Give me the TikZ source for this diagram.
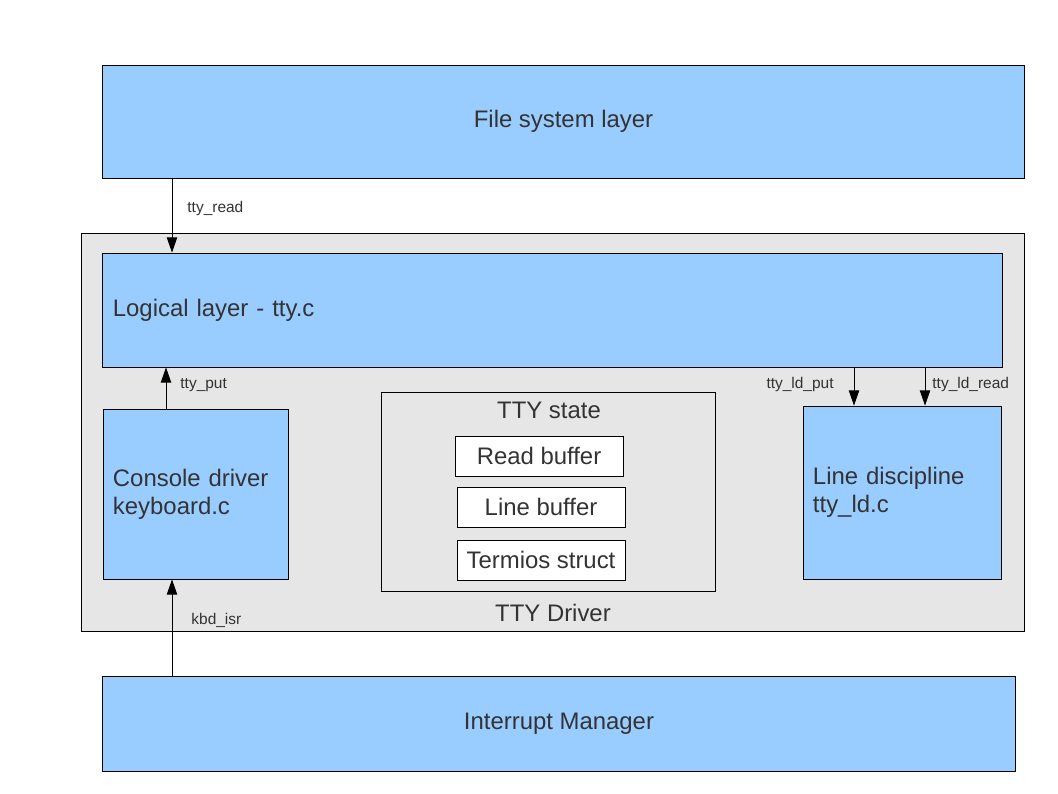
\documentclass[tikz,border=0pt]{standalone}
\usepackage{fontspec}
\setmainfont{Liberation Sans}
\usepackage{tikz}
\usetikzlibrary{arrows.meta,positioning}
\definecolor{layerblue}{HTML}{99CCFF}
\definecolor{drivergray}{HTML}{E6E6E6}
\definecolor{textgray}{HTML}{333333}
\tikzset{
  boxnode/.style = {rectangle, draw=black, line width=0.6pt, text=textgray, inner sep=0pt, font=\fontsize{17}{20}\selectfont},
  layer/.style = {boxnode, fill=layerblue},
  leftlayer/.style = {layer, align=left, inner xsep=0.25cm},
  driver/.style = {boxnode, fill=drivergray},
  bufbox/.style = {boxnode, fill=white, minimum width=4.2cm, minimum height=1cm},
  lbl/.style = {text=textgray, inner sep=0pt, font=\fontsize{11}{13}\selectfont},
  arr/.style = {-{Triangle[length=3.8mm,width=2.6mm]}, line width=0.6pt},
}

\begin{document}
\begin{tikzpicture}[x=0.025cm, y=-0.025cm]
\useasboundingbox (0,0) rectangle (1058,794);

% layers
\node [layer, minimum width=23.025cm, minimum height=2.825cm] (fs) at (563.5,121.5) {File system layer};
\node [driver, minimum width=23.55cm, minimum height=9.95cm] (drv) at (553,432) {};
\node [leftlayer, minimum width=22.475cm, minimum height=2.85cm, text width=21.975cm] (logic) at (552.5,310) {Logical layer - tty.c};
\node [leftlayer, minimum width=4.625cm, minimum height=4.25cm, text width=4.125cm] (cons) at (195.5,494) {Console driver\\keyboard.c};
\node [leftlayer, minimum width=4.95cm, minimum height=4.325cm, text width=4.45cm] (ldisc) at (902,492.5) {Line discipline\\tty\_ld.c};
\node [layer, minimum width=22.8cm, minimum height=2.375cm] (irq) at (559,723.5) {Interrupt Manager};

% tty state
\node [driver, minimum width=8.35cm, minimum height=4.975cm] (state) at (548,491.5) {};
\node [lbl, font=\fontsize{17}{20}\selectfont] (statetxt) at (549,410) {TTY state};
\node [bufbox] (rbuf) at (539,456) {Read buffer};
\node [bufbox] (lbuf) at (541,507) {Line buffer};
\node [bufbox] (termios) at (541,560) {Termios struct};
\node [lbl, font=\fontsize{17}{20}\selectfont] (drvtxt) at (553,613) {TTY Driver};

% calls
\coordinate (xread) at (172,0);
\coordinate (xput) at (166,0);
\coordinate (xldput) at (854,0);
\coordinate (xldread) at (925,0);
\draw [arr] (fs.south -| xread) -- node [lbl, pos=0.4, right=0.375cm] {tty\_read} (logic.north -| xread);
\draw [arr] (cons.north -| xput) -- node [lbl, pos=0.57, right=0.35cm] {tty\_put} (logic.south -| xput);
\draw [arr] (logic.south -| xldput) -- node [lbl, pos=0.46, left=0.5cm] {tty\_ld\_put} (ldisc.north -| xldput);
\draw [arr] (logic.south -| xldread) -- node [lbl, pos=0.46, right=0.175cm] {tty\_ld\_read} (ldisc.north -| xldread);
\draw [arr] (irq.north -| xread) -- node [lbl, pos=0.57, right=0.475cm] {kbd\_isr} (cons.south -| xread);
\end{tikzpicture}
\end{document}
